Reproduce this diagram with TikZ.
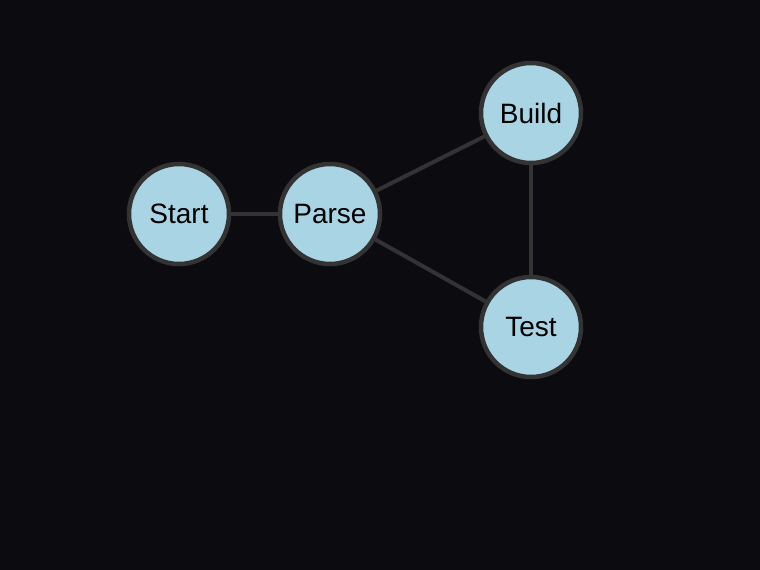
\documentclass[tikz,border=0pt]{standalone}
\usepackage{fontspec}
\setmainfont{Liberation Sans}
\definecolor{bg}{HTML}{0C0C10}
\definecolor{nodefill}{HTML}{A9D4E3}
\definecolor{edge}{HTML}{333333}
\begin{document}
\begin{tikzpicture}[x=1pt,y=-1pt,
  vertex/.style={circle,draw=edge,line width=4.5pt,fill=nodefill,minimum size=100pt,inner sep=0pt,font=\fontsize{28}{32}\selectfont,text=black},
  link/.style={draw=edge,line width=4pt}]
\fill[bg] (0,0) rectangle (760,570);
\useasboundingbox (0,0) rectangle (760,570);
\node[vertex] (start) at (179,214) {Start};
\node[vertex] (parse) at (330,214) {Parse};
\node[vertex] (build) at (531,113) {Build};
\node[vertex] (test) at (531,327) {Test};
\path[link] (start) -- (parse);
\path[link] (parse) -- (build);
\path[link] (parse) -- (test);
\path[link] (build) -- (test);
\end{tikzpicture}
\end{document}
